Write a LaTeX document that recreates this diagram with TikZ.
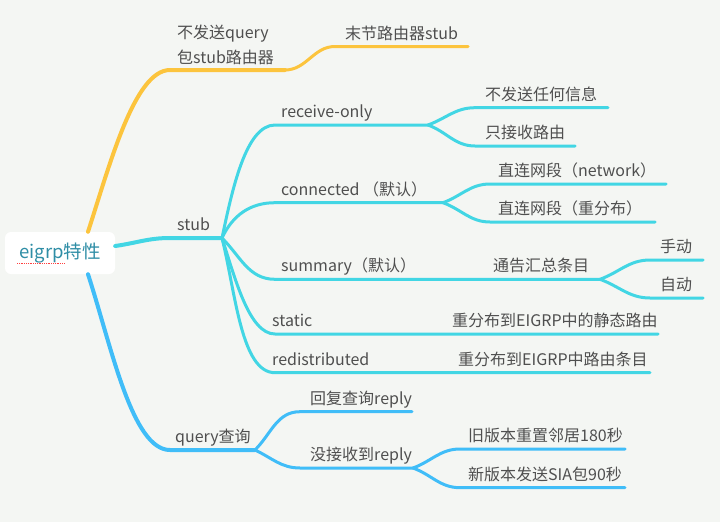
\documentclass[tikz,border=0pt]{standalone}
\usepackage{fontspec}
\setmainfont{Noto Sans CJK SC}
\usetikzlibrary{positioning}
\definecolor{bgc}{HTML}{F4F6F3}
\definecolor{yelc}{HTML}{FCC43D}
\definecolor{cyac}{HTML}{42D6E4}
\definecolor{bluc}{HTML}{40BDF8}
\definecolor{txtc}{HTML}{4F4F4F}
\definecolor{rootc}{HTML}{2F8EA6}
\tikzset{
  lbl/.style={anchor=base west, inner sep=0pt, text=txtc, font=\fontsize{16}{25}\selectfont},
  br/.style={line width=4pt, line cap=round},
  sub/.style={line width=3pt, line cap=round},
}
\begin{document}
\begin{tikzpicture}[x=1pt,y=-1pt]
    \fill[bgc] (0,0) rectangle (720,522);
    \useasboundingbox (0,0) rectangle (720,522);

    \node[fill=white, rounded corners=6pt, minimum width=110pt, minimum height=42pt, text=rootc, font=\fontsize{18.5}{20}\selectfont] (root) at (60,253) {eigrp特性};
    \draw[red!75, densely dotted, line width=0.8pt] ([shift={(-43pt,-10.5pt)}]root.center) -- ([shift={(5pt,-10.5pt)}]root.center);

    % points on the branches
    \coordinate (nqa) at (170,70);   \coordinate (nqb) at (285,70);
    \coordinate (msa) at (335,46.5); \coordinate (msb) at (468,46.5);
    \coordinate (sta) at (170,238);  \coordinate (stb) at (222,238);
    \coordinate (roa) at (275,125);  \coordinate (rob) at (428,125);
    \coordinate (r1a) at (475,107.7); \coordinate (r1b) at (608,107.7);
    \coordinate (r2a) at (475,146);  \coordinate (r2b) at (575,146);
    \coordinate (coa) at (275,202.7); \coordinate (cob) at (443,202.7);
    \coordinate (c1a) at (490,184);  \coordinate (c1b) at (666,184);
    \coordinate (c2a) at (490,222);  \coordinate (c2b) at (655,222);
    \coordinate (sua) at (275,279.3); \coordinate (sub) at (432,279.3);
    \coordinate (sub2) at (600,279.3);
    \coordinate (s1a) at (650,260);  \coordinate (s1b) at (703,260);
    \coordinate (s2a) at (650,298);  \coordinate (s2b) at (703,298);
    \coordinate (saa) at (275,334);  \coordinate (sab) at (395,334);
    \coordinate (sab2) at (658,334);
    \coordinate (rda) at (275,372.7); \coordinate (rdb) at (400,372.7);
    \coordinate (rdb2) at (650,372.7);
    \coordinate (qua) at (170,450);  \coordinate (qub) at (255,450);
    \coordinate (rpa) at (300,411.7); \coordinate (rpb) at (412,411.7);
    \coordinate (nra) at (300,468);  \coordinate (nrb) at (413,468);
    \coordinate (o1a) at (460,449);  \coordinate (o1b) at (625,449);
    \coordinate (o2a) at (460,487.7); \coordinate (o2b) at (625,487.7);

    % yellow branch
    \draw[br, yelc] ([xshift=28pt]root.north) to[out=72, in=180, in looseness=0.5] (nqa) -- (nqb);
    \draw[sub, yelc] (nqb) to[out=0, in=180] (msa) -- (msb);

    % stub branch
    \draw[br, cyac] ([yshift=7pt]root.east) to[out=8, in=180] (sta) -- (stb);
    \draw[sub, cyac] (stb) to[out=78, in=180, in looseness=0.6] (roa) -- (rob);
    \draw[sub, cyac] (rob) to[out=20, in=180] (r1a) -- (r1b);
    \draw[sub, cyac] (rob) to[out=-20, in=180] (r2a) -- (r2b);
    \draw[sub, cyac] (stb) to[out=65, in=180] (coa) -- (cob);
    \draw[sub, cyac] (cob) to[out=20, in=180] (c1a) -- (c1b);
    \draw[sub, cyac] (cob) to[out=-20, in=180] (c2a) -- (c2b);
    \draw[sub, cyac] (stb) to[out=-45, in=180] (sua) -- (sub) -- (sub2);
    \draw[sub, cyac] (sub2) to[out=20, in=180] (s1a) -- (s1b);
    \draw[sub, cyac] (sub2) to[out=-20, in=180] (s2a) -- (s2b);
    \draw[sub, cyac] (stb) to[out=-72, in=180, in looseness=0.6] (saa) -- (sab) -- (sab2);
    \draw[sub, cyac] (stb) to[out=-76, in=180, in looseness=0.6] (rda) -- (rdb) -- (rdb2);

    % query branch
    \draw[br, bluc] ([xshift=28pt]root.south) to[out=-72, in=180, in looseness=0.5] (qua) -- (qub);
    \draw[sub, bluc] (qub) to[out=45, in=180] (rpa) -- (rpb);
    \draw[sub, bluc] (qub) to[out=-25, in=180] (nra) -- (nrb);
    \draw[sub, bluc] (nrb) to[out=20, in=180] (o1a) -- (o1b);
    \draw[sub, bluc] (nrb) to[out=-20, in=180] (o2a) -- (o2b);

    % labels
    \node[lbl, align=left, anchor=south west] (nq) at (177,65) {不发送query\\包stub路由器};
    \node[lbl] (ms) at (345,39) {末节路由器stub};
    \node[lbl] (st) at (177,230.5) {stub};
    \node[lbl] (ro) at (281,117.5) {receive-only};
    \node[lbl] (r1) at (485,100.2) {不发送任何信息};
    \node[lbl] (r2) at (485,138.5) {只接收路由};
    \node[lbl] (co) at (281,195.2) {connected （默认）};
    \node[lbl] (c1) at (498,176.5) {直连网段（network）};
    \node[lbl] (c2) at (498,214.5) {直连网段（重分布）};
    \node[lbl] (su) at (281,271.8) {summary（默认）};
    \node[lbl] (tg) at (493,271.8) {通告汇总条目};
    \node[lbl] (s1) at (660,252.5) {手动};
    \node[lbl] (s2) at (660,290.5) {自动};
    \node[lbl] (sa) at (272,326.5) {static};
    \node[lbl] (sj) at (452,326.5) {重分布到EIGRP中的静态路由};
    \node[lbl] (rd) at (272,365.2) {redistributed};
    \node[lbl] (rj) at (458,365.2) {重分布到EIGRP中路由条目};
    \node[lbl] (qu) at (175,442.5) {query查询};
    \node[lbl] (rp) at (310,404.2) {回复查询reply};
    \node[lbl] (nr) at (310,460.5) {没接收到reply};
    \node[lbl] (o1) at (468,441.5) {旧版本重置邻居180秒};
    \node[lbl] (o2) at (468,480.2) {新版本发送SIA包90秒};
\end{tikzpicture}
\end{document}
